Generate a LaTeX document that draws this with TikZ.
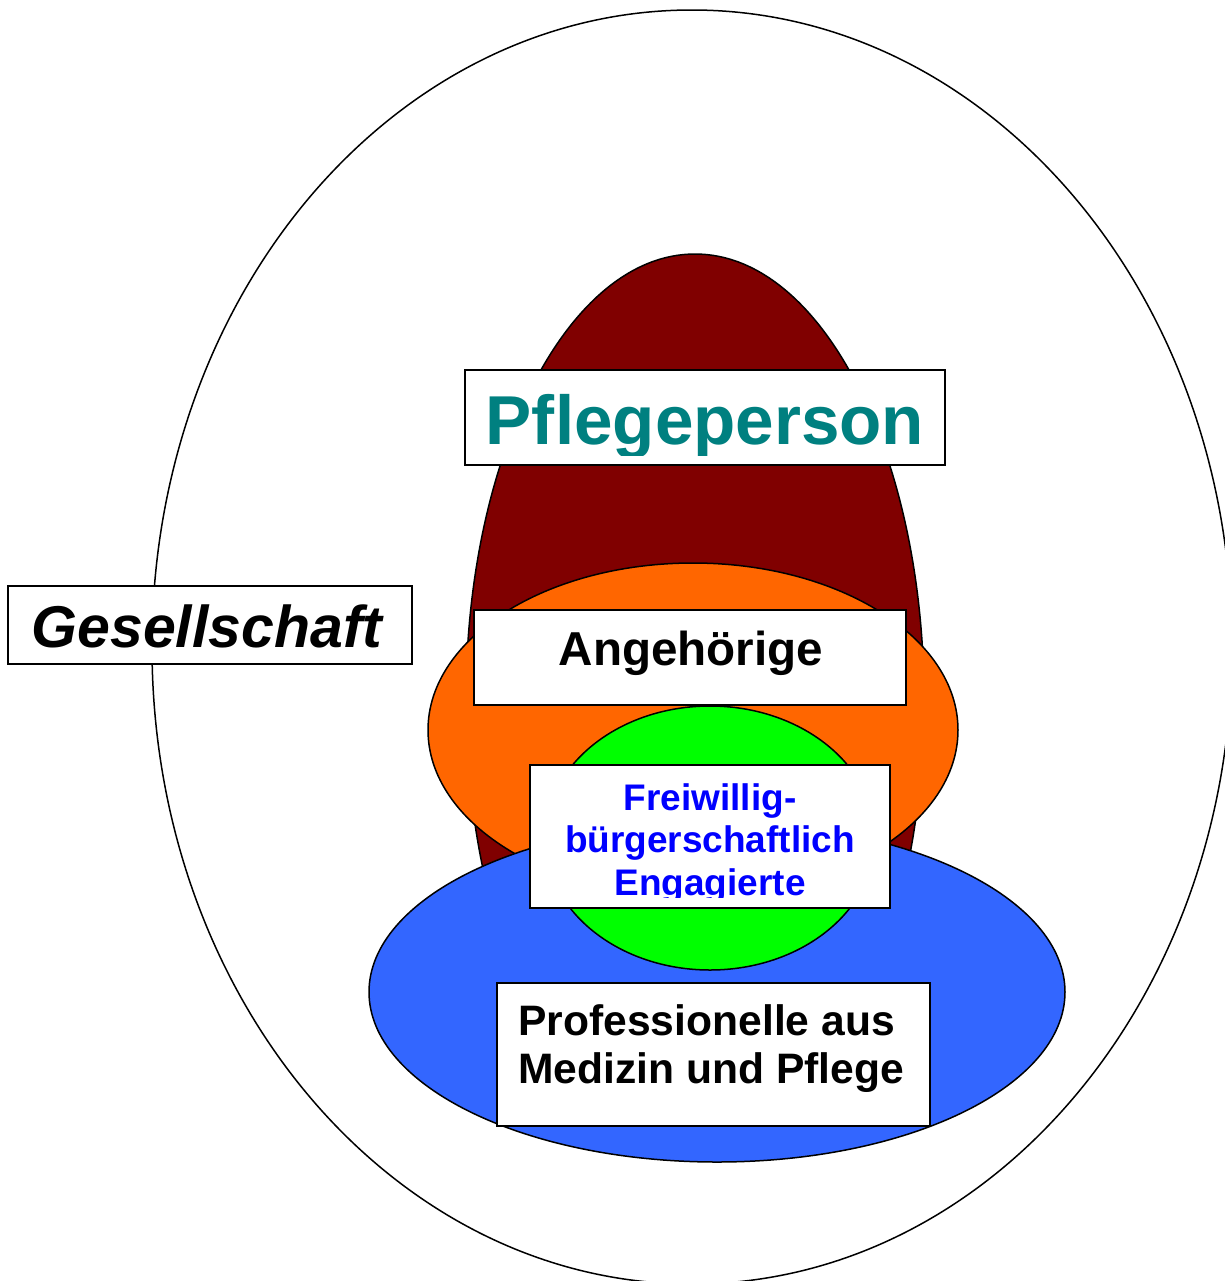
\documentclass[tikz,border=0pt]{standalone}
\usepackage{fontspec}
\setmainfont{Liberation Sans}
\definecolor{darkred}{HTML}{800000}
\definecolor{orangeF}{HTML}{FF6600}
\definecolor{blueF}{HTML}{3366FF}
\definecolor{greenF}{HTML}{00FF00}
\definecolor{tealT}{HTML}{008080}
\definecolor{blueT}{HTML}{0000FF}
\tikzset{
  blob/.style={draw=black, line width=0.75pt},
  labelbox/.style={draw=black, fill=white, line width=0.8pt},
  lbl/.style={inner sep=0pt, anchor=base, font=\bfseries},
}
\begin{document}
\begin{tikzpicture}[x=0.5pt,y=-0.5pt]
\useasboundingbox (0,0) rectangle (1225,1281);
% outer society ellipse
\draw[blob, fill=white] (692,647) ellipse [x radius=270pt, y radius=318.5pt];
% Pflegeperson shape
\draw[blob, fill=darkred] (695,700) ellipse [x radius=114.5pt, y radius=223pt];
% Angehoerige
\draw[blob, fill=orangeF] (693,730) ellipse [x radius=132.5pt, y radius=83.5pt];
% Professionelle
\draw[blob, fill=blueF] (717,992) ellipse [x radius=174pt, y radius=85pt];
% Freiwillige
\draw[blob, fill=greenF] (710,838) ellipse [x radius=82.5pt, y radius=66pt];

% Pflegeperson box
\draw[labelbox] (465,370) rectangle (945,465);
\begin{scope}
\clip (465,370) rectangle (945,455);
\node[lbl, font=\fontsize{34.6}{40}\selectfont\bfseries, text=tealT] (pfl) at (705,444) {Pflegeperson};
\end{scope}

% Gesellschaft box
\draw[labelbox] (8,586) rectangle (412,664);
\node[lbl, font=\fontsize{29.5}{34}\selectfont\bfseries\itshape] (ges) at (207,647) {Gesellschaft};

% Angehoerige box
\draw[labelbox] (474,610) rectangle (906,705);
\node[lbl, font=\fontsize{23.8}{28}\selectfont\bfseries] (ang) at (691,665) {Angehörige};

% Freiwillige box
\draw[labelbox] (530,765) rectangle (890,908);
\begin{scope}
\clip (530,765) rectangle (890,897);
\node[lbl, font=\fontsize{18.5}{21}\selectfont\bfseries, text=blueT] (fr1) at (710,810) {Freiwillig-};
\node[lbl, font=\fontsize{18.5}{21}\selectfont\bfseries, text=blueT] (fr2) at (710,852) {bürgerschaftlich};
\node[lbl, font=\fontsize{18.5}{21}\selectfont\bfseries, text=blueT] (fr3) at (710,895) {Engagierte};
\end{scope}

% Professionelle box
\draw[labelbox] (497,983) rectangle (930,1126);
\node[lbl, anchor=base west, font=\fontsize{21.3}{24}\selectfont\bfseries] (pr1) at (518,1035) {Professionelle aus};
\node[lbl, anchor=base west, font=\fontsize{21.3}{24}\selectfont\bfseries] (pr2) at (518,1083) {Medizin und Pflege};
\end{tikzpicture}
\end{document}
